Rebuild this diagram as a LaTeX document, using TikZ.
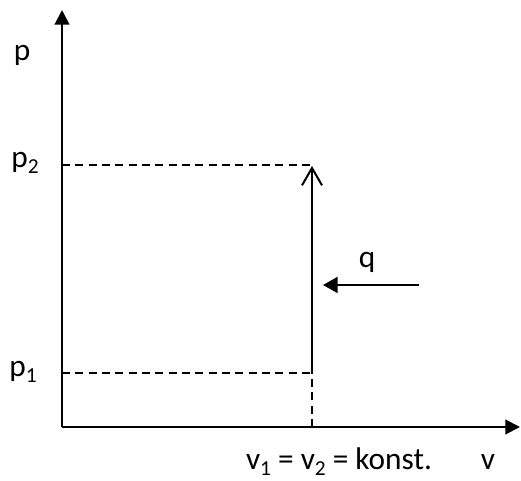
\documentclass[tikz,border=0pt]{standalone}
\usepackage{fontspec}
\setmainfont{Carlito}
\usepackage{tikz}
\usepackage{xcolor}
\usetikzlibrary{positioning, arrows.meta, calc}
\newcommand{\lowidx}[1]{\raisebox{-0.18em}{\fontsize{16}{16}\selectfont #1}}

\begin{document}
\begin{tikzpicture}[
  x=0.75pt, y=0.75pt,
  axis/.style={line width=1.5pt, -{Triangle[length=11pt,width=11pt]}},
  guide/.style={line width=1.1pt, dash pattern=on 6pt off 4pt},
  label/.style={font=\fontsize{23.5}{25}\selectfont, inner sep=0pt},
]
  \useasboundingbox (0,0) rectangle (521,481);
  % axes
  \coordinate (o) at (62,54);
  \coordinate (ptop) at (62,471);
  \coordinate (vend) at (520,54);
  \draw[axis] (o) -- (ptop);
  \draw[axis] (o) -- (vend);
  % states
  \coordinate (s1) at (312,108);
  \coordinate (s2) at (312,316);
  \coordinate (v12) at (312,54);
  \coordinate (p1a) at (62,108);
  \coordinate (p2a) at (62,316);
  \draw[guide] (p1a) -- (s1);
  \draw[guide] (p2a) -- (s2);
  \draw[guide] (v12) -- (s1);
  \draw[line width=1.5pt, -{Straight Barb[length=13pt,width=15pt]}] (s1) -- ($(s2)+(0,-1)$);
  % heat
  \coordinate (qa) at (419,196);
  \coordinate (qb) at (323,196);
  \draw[line width=1.5pt, -{Triangle[length=11pt,width=12pt]}] (qa) -- (qb);
  % labels
  \node[label] (p) at (22,426) {p};
  \node[label] (lp2) at (25,318) {p\lowidx{2}};
  \node[label] (lp1) at (23,109) {p\lowidx{1}};
  \node[label] (q) at (367,219) {q};
  \node[label, anchor=base] (konst) at (339,11) {v\lowidx{1} = v\lowidx{2} = konst.};
  \node[label, anchor=base] (v) at (488,11) {v};
\end{tikzpicture}
\end{document}
